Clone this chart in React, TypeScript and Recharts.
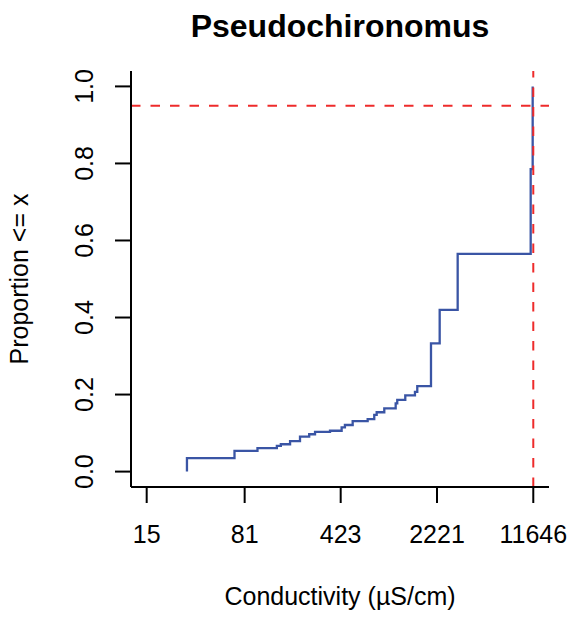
/**
 * Pseudochironomus - cumulative proportion of records by conductivity (log axis).
 */

import React from 'react';
import { LineChart, Line, XAxis, YAxis, ReferenceLine } from 'recharts';

// step points of the cumulative curve
const conductivity = [
  30, 30, 68, 101, 141, 151, 177, 210, 246, 272, 352, 430, 455, 520, 673, 754,
  786, 896, 1090, 1120, 1286, 1519, 1581, 2002, 2325, 3169, 11136, 11524,
];
const proportion = [
  0, 0.035, 0.054, 0.061, 0.067, 0.071, 0.079, 0.091, 0.097, 0.103, 0.106,
  0.115, 0.121, 0.131, 0.136, 0.147, 0.154, 0.164, 0.177, 0.186, 0.198, 0.207,
  0.222, 0.333, 0.42, 0.565, 0.785, 1.0,
];

const xTicks = [15, 81, 423, 2221, 11646];
const yTicks = [0, 0.2, 0.4, 0.6, 0.8, 1.0];

const cutoffProportion = 0.95;
const cutoffConductivity = 11646;

const data = conductivity.map((c, i) => ({ c, p: proportion[i] }));

const FONT = '"Liberation Sans", Arial, Helvetica, sans-serif';
const BLUE = '#3a55a5';
const RED = '#ee2b2b';

const XTick = (props: any) => {
  const { x, payload } = props;
  return (
    <text x={x} y={543} textAnchor="middle" fontSize={25} fill="#000" fontFamily={FONT}>
      {payload.value}
    </text>
  );
};

const YTick = (props: any) => {
  const { y, payload } = props;
  const bx = 93;
  return (
    <text
      x={bx}
      y={y}
      transform={`rotate(-90, ${bx}, ${y})`}
      textAnchor="middle"
      fontSize={25}
      fill="#000"
      fontFamily={FONT}
    >
      {Number(payload.value).toFixed(1)}
    </text>
  );
};

const App: React.FC = () => {
  return (
    <div style={{ position: 'absolute', left: 0, top: 0, width: 577, height: 620, background: '#fff' }}>
      <LineChart
        width={577}
        height={620}
        data={data}
        margin={{ top: 71, right: 28, left: 0, bottom: 0 }}
      >
        <XAxis
          dataKey="c"
          type="number"
          scale="log"
          domain={[11.45, 15264]}
          allowDataOverflow
          ticks={xTicks}
          interval={0}
          height={133}
          tick={<XTick />}
          tickSize={16}
          axisLine={{ stroke: '#000', strokeWidth: 2 }}
          tickLine={{ stroke: '#000', strokeWidth: 2 }}
        />
        <YAxis
          type="number"
          domain={[-0.04, 1.04]}
          allowDataOverflow
          ticks={yTicks}
          interval={0}
          width={131}
          tick={<YTick />}
          tickSize={16}
          axisLine={{ stroke: '#000', strokeWidth: 2 }}
          tickLine={{ stroke: '#000', strokeWidth: 2 }}
        />
        <Line
          type="stepAfter"
          dataKey="p"
          stroke={BLUE}
          strokeWidth={2.3}
          dot={false}
          activeDot={false}
          isAnimationActive={false}
        />
        <ReferenceLine y={cutoffProportion} stroke={RED} strokeWidth={2} strokeDasharray="9.5 10" />
        <ReferenceLine x={cutoffConductivity} stroke={RED} strokeWidth={2} strokeDasharray="9.5 10" />
      </LineChart>
      <svg
        width={577}
        height={620}
        style={{ position: 'absolute', left: 0, top: 0, pointerEvents: 'none' }}
      >
        <text x={340} y={37} textAnchor="middle" fontSize={32} fontWeight="bold" fontFamily={FONT} fill="#000">
          Pseudochironomus
        </text>
        <text x={340} y={605} textAnchor="middle" fontSize={25} fontFamily={FONT} fill="#000">
          Conductivity (µS/cm)
        </text>
        <text
          x={28}
          y={279}
          transform="rotate(-90, 28, 279)"
          textAnchor="middle"
          fontSize={25}
          fontFamily={FONT}
          fill="#000"
        >
          Proportion {'<='} x
        </text>
      </svg>
    </div>
  );
};

export default App;
